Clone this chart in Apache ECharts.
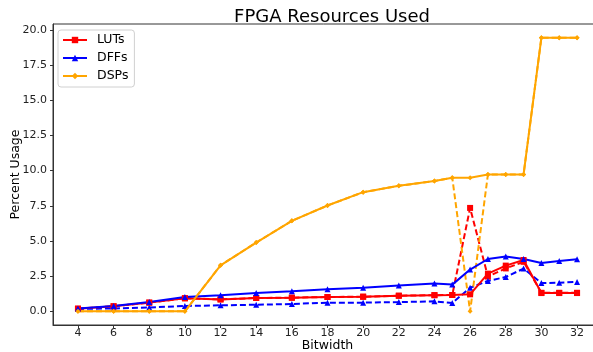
<!DOCTYPE html>
<html>
<head>
<meta charset="utf-8">
<script src="https://cdn.jsdelivr.net/npm/echarts@6/dist/echarts.min.js"></script>
<style>
html,body{margin:0;padding:0;background:#fff;}
#chart{width:593px;height:352px;}
</style>
</head>
<body>
<div id="chart"></div>
<script>
const bitwidths = [4,6,8,10,12,14,16,18,20,22,24,25,26,27,28,29,30,31,32];
const lutsSolid  = [0.19,0.36,0.62,0.93,0.85,0.95,0.97,1.02,1.04,1.11,1.15,1.16,1.21,2.68,3.25,3.65,1.30,1.30,1.30];
const lutsDashed = [0.19,0.36,0.62,0.93,0.85,0.95,0.97,1.02,1.04,1.11,1.15,1.16,7.35,2.47,3.05,3.52,1.32,1.32,1.32];
const dffsSolid  = [0.21,0.38,0.66,1.02,1.14,1.30,1.42,1.57,1.68,1.83,1.98,1.90,2.97,3.72,3.89,3.72,3.44,3.58,3.70];
const dffsDashed = [0.17,0.21,0.28,0.38,0.43,0.47,0.52,0.62,0.62,0.66,0.71,0.59,1.68,2.16,2.44,3.04,2.01,2.04,2.09];
const dspsSolid  = [0,0,0,0,3.27,4.89,6.43,7.52,8.47,8.92,9.26,9.49,9.49,9.73,9.73,9.73,19.45,19.45,19.45];
const dspsDashed = [0,0,0,0,3.27,4.89,6.43,7.52,8.47,8.92,9.26,9.49,0,9.73,9.73,9.73,19.45,19.45,19.45];
const xTicks = [4,6,8,10,12,14,16,18,20,22,24,26,28,30,32];
const yTicks = [0,2.5,5,7.5,10,12.5,15,17.5,20];
const seriesNames = ['LUTs','DFFs','DSPs'];

const FONT = 'DejaVu Sans';
const pairs = arr => bitwidths.map((x,i)=>[x,arr[i]]);

function mk(name, data, color, symbol, size, dashed, z){
  return {
    name: name, type:'line', data: pairs(data),
    symbol: symbol, symbolSize: size, showSymbol:true,
    lineStyle:{color:color, width:2, type: dashed ? [6,3] : 'solid'},
    itemStyle:{color:color},
    emphasis:{disabled:true}, animation:false, z:z
  };
}

const chart = echarts.init(document.getElementById('chart'), null, {renderer:'canvas'});
chart.setOption({
  animation:false,
  backgroundColor:'#fff',
  textStyle:{fontFamily:FONT},
  title:{
    text:'FPGA Resources Used', left:327, top:3, textAlign:'center',
    textStyle:{fontFamily:FONT, fontSize:18, fontWeight:'normal', color:'#000'}
  },
  grid:{left:53, right:-9, top:24, bottom:27, containLabel:false, outerBoundsMode:'none',
    show:true, borderColor:'#333', borderWidth:1, backgroundColor:'transparent'},
  legend:{
    data:seriesNames, orient:'vertical', left:58, top:30,
    padding:[3,6,4,4], itemGap:4, itemWidth:24, itemHeight:8,
    backgroundColor:'#fff', borderColor:'#d0d0d0', borderWidth:1, borderRadius:3,
    textStyle:{fontFamily:FONT, fontSize:12.5, color:'#000', lineHeight:14, padding:[0,0,0,5]}
  },
  xAxis:{
    type:'value', min:2.6, max:33.4,
    name:'Bitwidth', nameLocation:'middle', nameGap:14, nameMoveOverlap:false,
    nameTextStyle:{fontFamily:FONT, fontSize:12.5, color:'#000'},
    axisLine:{show:true, onZero:false, lineStyle:{color:'#333', width:1}},
    axisTick:{show:true, length:3, customValues:xTicks, lineStyle:{color:'#333'}},
    axisLabel:{customValues:xTicks, margin:3, fontFamily:FONT, fontSize:11, color:'#222'},
    splitLine:{show:false}
  },
  yAxis:{
    type:'value', min:-0.97, max:20.42,
    name:'Percent Usage', nameLocation:'middle', nameGap:31, nameMoveOverlap:false,
    nameTextStyle:{fontFamily:FONT, fontSize:12.5, color:'#000'},
    axisLine:{show:true, onZero:false, lineStyle:{color:'#333', width:1}},
    axisTick:{show:true, length:3, customValues:yTicks, lineStyle:{color:'#333'}},
    axisLabel:{customValues:yTicks, margin:6, fontFamily:FONT, fontSize:11, color:'#222',
      formatter: v => Number(v).toFixed(1)},
    splitLine:{show:false}
  },
  series:[
    mk('LUTs', lutsSolid, '#ff0000', 'rect', 6, false, 5),
    mk('DFFs', dffsSolid, '#0000ff', 'triangle', 6, false, 5),
    mk('DSPs', dspsSolid, '#ffa500', 'diamond', 5, false, 5),
    mk('LUTs (dashed)', lutsDashed, '#ff0000', 'rect', 6, true, 4),
    mk('DFFs (dashed)', dffsDashed, '#0000ff', 'triangle', 6, true, 4),
    mk('DSPs (dashed)', dspsDashed, '#ffa500', 'diamond', 5, true, 4)
  ]
});
</script>
</body>
</html>
